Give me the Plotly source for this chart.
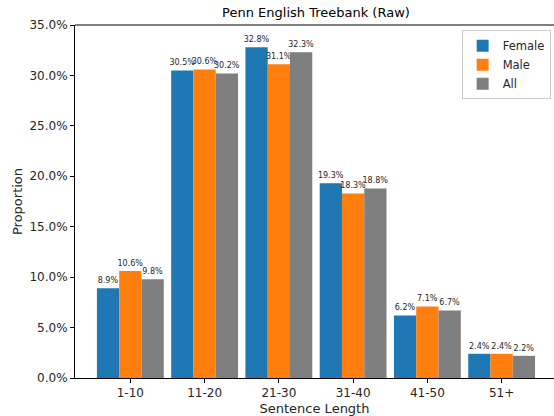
import plotly.graph_objects as go

# Sentence-length buckets and the share of sentences in each
categories = ["1-10", "11-20", "21-30", "31-40", "41-50", "51+"]
female = [0.089, 0.305, 0.328, 0.193, 0.062, 0.024]
male = [0.106, 0.306, 0.311, 0.183, 0.071, 0.024]
all_speakers = [0.098, 0.302, 0.323, 0.188, 0.067, 0.022]
y_ticks = [0.0, 0.05, 0.10, 0.15, 0.20, 0.25, 0.30, 0.35]

FONT = "DejaVu Sans"
series = [
    ("Female", female, "#1f77b4"),
    ("Male", male, "#ff7f0e"),
    ("All", all_speakers, "#7f7f7f"),
]

fig = go.Figure()
for name, vals, color in series:
    fig.add_trace(go.Bar(
        name=name,
        x=list(range(len(categories))),
        y=vals,
        marker=dict(color=color, line=dict(width=0)),
        text=[f"{v * 100:.1f}%" for v in vals],
        textposition="outside",
        textfont=dict(family=FONT, size=8, color="#262626"),
        constraintext="none",
        cliponaxis=False,
    ))

# top spine only (the right side of the frame runs off the canvas)
fig.add_shape(type="line", xref="paper", yref="paper", x0=0, x1=1, y0=1, y1=1,
              line=dict(color="black", width=1), layer="above")

fig.update_layout(
    width=554,
    height=416,
    margin=dict(l=75, r=0, t=25, b=38),
    paper_bgcolor="white",
    plot_bgcolor="white",
    barmode="group",
    bargap=0.1,
    bargroupgap=0.0,
    font=dict(family=FONT, size=12, color="black"),
    title=dict(
        text="Penn English Treebank (Raw)",
        x=316 / 554, xanchor="center",
        y=1 - 12 / 416, yanchor="middle",
        font=dict(family=FONT, size=13, color="black"),
    ),
    legend=dict(
        x=0.993, xanchor="right",
        y=0.985, yanchor="top",
        bgcolor="rgba(255,255,255,0.8)",
        bordercolor="#cccccc",
        borderwidth=1,
        font=dict(family=FONT, size=11.5, color="#262626"),
        tracegroupgap=0,
        itemwidth=30,
    ),
    showlegend=True,
)

fig.update_xaxes(
    range=[-0.745, 5.705],
    tickmode="array",
    tickvals=list(range(len(categories))),
    ticktext=categories,
    ticks="outside",
    ticklen=4,
    tickcolor="black",
    showline=True,
    linecolor="black",
    linewidth=1,
    mirror=False,
    showgrid=False,
    zeroline=False,
    tickfont=dict(family=FONT, size=12, color="#262626"),
    title=dict(text="Sentence Length", standoff=4,
               font=dict(family=FONT, size=13, color="#262626")),
)

fig.update_yaxes(
    range=[0, 0.35],
    tickmode="array",
    tickvals=y_ticks,
    ticktext=[f"{t * 100:.1f}%" for t in y_ticks],
    ticks="outside",
    ticklen=4,
    tickcolor="black",
    showline=True,
    linecolor="black",
    linewidth=1,
    mirror=False,
    showgrid=False,
    zeroline=False,
    tickfont=dict(family=FONT, size=12, color="#262626"),
    title=dict(text="Proportion", standoff=3,
               font=dict(family=FONT, size=13, color="#262626")),
)

fig.write_html("out.html")
